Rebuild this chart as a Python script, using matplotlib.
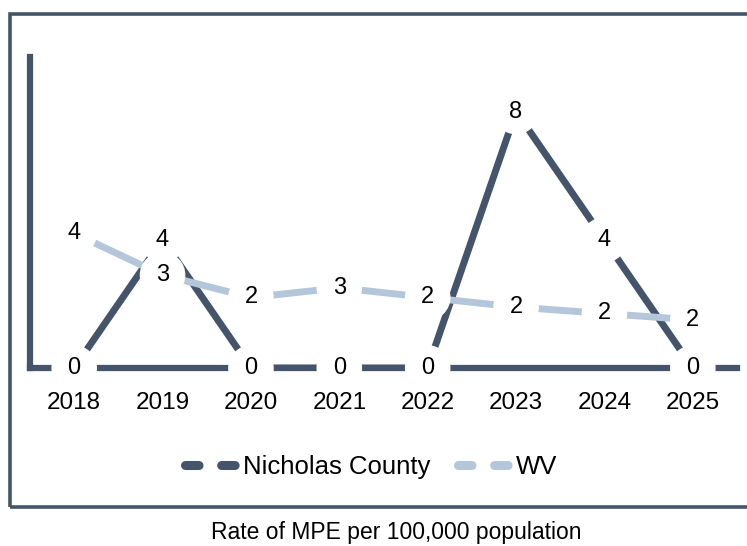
import matplotlib.pyplot as plt
from matplotlib.lines import Line2D
from matplotlib.patches import Rectangle
import numpy as np

years = ['2018', '2019', '2020', '2021', '2022', '2023', '2024', '2025']
nicholas = [0, 4, 0, 0, 0, 8, 4, 0]
wv = [4.2, 2.9, 2.2, 2.5, 2.2, 1.9, 1.7, 1.5]

dark = '#44546A'
light = '#B4C7DA'

plt.rcParams['font.family'] = ['Liberation Sans', 'DejaVu Sans']

fig = plt.figure(figsize=(7.47, 5.46), dpi=100)

# outer frame
fig.patches.append(Rectangle((9.5 / 747, 1 - 507 / 546), 1.0, (507 - 13.5) / 546,
                             transform=fig.transFigure, fill=False,
                             ec=dark, lw=2.6, zorder=0))

ax = fig.add_axes([30 / 747, 1 - 368 / 546, 707 / 747, 311 / 546])
x = np.arange(len(years))

ax.plot(x, nicholas, color=dark, lw=5, zorder=2, solid_capstyle='butt')
ax.plot(x, wv, color=light, lw=5, zorder=3, solid_capstyle='butt')

for i, v in enumerate(nicholas):
    ax.text(i, v, str(int(np.floor(v + 0.5))), ha='center', va='center', fontsize=17,
            bbox=dict(boxstyle='circle,pad=0.5', fc='white', ec='none'), zorder=4)
for i, v in enumerate(wv):
    ax.text(i, v, str(int(np.floor(v + 0.5))), ha='center', va='center', fontsize=17,
            bbox=dict(boxstyle='circle,pad=0.5', fc='white', ec='none'), zorder=5)

ax.set_xlim(-0.5, 7.5)
ax.set_ylim(0, 9.7)
ax.set_xticks(x)
ax.set_xticklabels(years, fontsize=17.5)
ax.set_yticks([])
ax.tick_params(axis='x', length=0, pad=17)
for s in ['top', 'right']:
    ax.spines[s].set_visible(False)
for s in ['left', 'bottom']:
    ax.spines[s].set_color(dark)
    ax.spines[s].set_linewidth(4.5)
ax.spines['bottom'].set_zorder(1)
ax.patch.set_alpha(0)

handles = [
    Line2D([], [], color=dark, lw=6.5, linestyle=(0, (1.5, 2.5)), dash_capstyle='round'),
    Line2D([], [], color=light, lw=6.5, linestyle=(0, (1.5, 2.5)), dash_capstyle='round'),
]
fig.legend(handles, ['Nicholas County', 'WV'], loc='center', bbox_to_anchor=(0.497, 0.145),
           ncol=2, frameon=False, fontsize=18.5, handlelength=2.3, handletextpad=-0.05,
           columnspacing=1.1)

fig.text(0.531, 0.024, 'Rate of MPE per 100,000 population', ha='center', va='center',
         fontsize=16.5)

fig.savefig('out.png', dpi=100)
